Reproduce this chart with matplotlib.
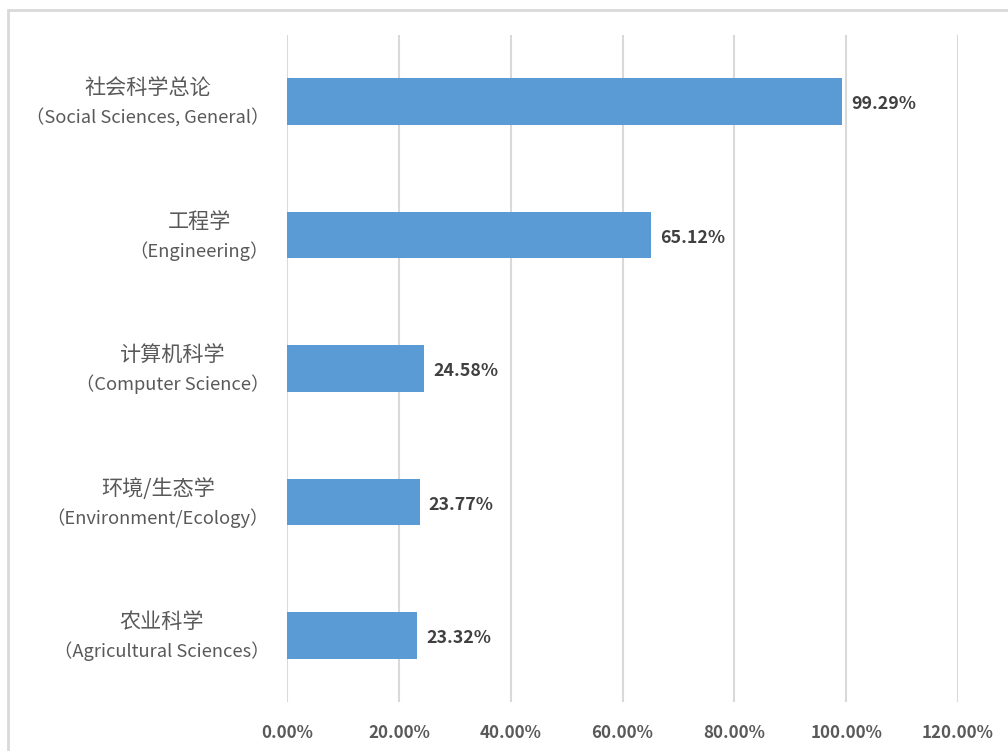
import matplotlib
matplotlib.use('Agg')
import matplotlib.pyplot as plt
from matplotlib.patches import Rectangle
from matplotlib.ticker import FuncFormatter
from matplotlib.transforms import ScaledTranslation

plt.rcParams['font.family'] = ['Noto Sans CJK SC', 'DejaVu Sans']

# data
names_cn = ['社会科学总论', '工程学', '计算机科学', '环境/生态学', '农业科学']
names_en = ['（Social Sciences, General）', '（Engineering）', '（Computer Science）',
            '（Environment/Ecology）', '（Agricultural Sciences）']
values = [99.29, 65.12, 24.58, 23.77, 23.32]
x_ticks = [0, 20, 40, 60, 80, 100, 120]

bar_color = '#5B9BD5'
grid_color = '#D9D9D9'
label_gray = '#595959'

fig = plt.figure(figsize=(10.08, 7.51), dpi=100)
ax = fig.add_axes([287 / 1008, 1 - 702 / 751, 671 / 1008, 667 / 751])

pos = list(range(len(values)))
ax.barh(pos, values, height=0.35, color=bar_color, zorder=3)

# value labels next to each bar
for p, v in zip(pos, values):
    ax.text(v + 1.6, p + 0.02, '%.2f%%' % v, va='center', ha='left',
            fontsize=12.8, fontweight='bold', color='#404040')

ax.set_xlim(0, 120)
ax.set_ylim(len(values) - 0.5, -0.5)
ax.set_xticks(x_ticks)
ax.xaxis.set_major_formatter(FuncFormatter(lambda v, _: '%.2f%%' % v))
ax.set_yticks(pos)
ax.set_yticklabels([])

# category names: english line right-aligned, chinese line centred above it
shift = ScaledTranslation(-0.18, -0.16, fig.dpi_scale_trans)
for p, cn, en in zip(pos, names_cn, names_en):
    t_en = ax.text(0, p, en, transform=ax.get_yaxis_transform() + shift,
                   ha='right', va='center', fontsize=13.2, color=label_gray)
    ax.annotate(cn, xy=(0.5, 0.5), xycoords=t_en, xytext=(0, 21),
                textcoords='offset points', ha='center', va='center',
                fontsize=15.2, color=label_gray)

ax.tick_params(axis='x', length=0, pad=16, labelsize=12.2, labelcolor=label_gray)
ax.tick_params(axis='y', length=0)
for lbl in ax.get_xticklabels():
    lbl.set_fontweight('bold')

ax.grid(axis='x', color=grid_color, linewidth=1.5, zorder=0)
for s in ax.spines.values():
    s.set_visible(False)

# light border around the chart area (runs off the right and bottom edges)
fig.patches.append(Rectangle((8 / 1008, -0.05), 1.2, 1 - 10 / 751 + 0.05,
                             transform=fig.transFigure, fill=False,
                             edgecolor=grid_color, linewidth=2))

fig.savefig('out.png', dpi=100)
